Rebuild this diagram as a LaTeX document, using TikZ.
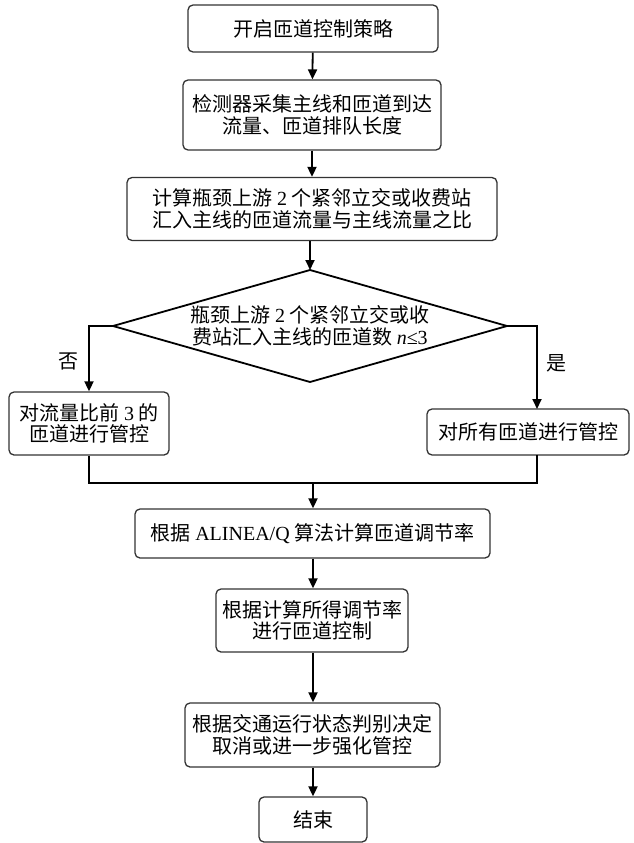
\documentclass[tikz,border=0pt]{standalone}
\usepackage{fontspec}
\setmainfont{Liberation Serif}
\newfontfamily\cjk{Noto Sans CJK SC}
\newcommand{\lt}[1]{{\rmfamily #1}}
\usetikzlibrary{arrows.meta,calc}
\begin{document}
\begin{tikzpicture}[x=1pt,y=-1pt,
  box/.style={draw=black!80,line width=1.3pt,rounded corners=5pt,inner sep=0pt,align=center,font=\cjk\fontsize{20}{21.5}\selectfont},
  conn/.style={line width=1.8pt,-{Triangle[length=10pt,width=9pt]}},
  plain/.style={line width=1.8pt},
  lbl/.style={font=\cjk\fontsize{20}{21.5}\selectfont}]
\useasboundingbox (0,0) rectangle (633,843);
\node[box,minimum width=250,minimum height=47] (b1) at (313,28.5) {开启匝道控制策略};
\node[box,minimum width=258,minimum height=70] (b2) at (312,115) {检测器采集主线和匝道到达\\流量、匝道排队长度};
\node[box,minimum width=370,minimum height=63] (b3) at (312,209) {计算瓶颈上游 \lt{2} 个紧邻立交或收费站\\汇入主线的匝道流量与主线流量之比};
\coordinate (dtop) at (310,270);
\coordinate (dbot) at (310,382);
\coordinate (dleft) at (113,326);
\coordinate (dright) at (507,326);
\draw[line width=1.8pt] (dtop) -- (dright) -- (dbot) -- (dleft) -- cycle;
\node[lbl,align=center] (dec) at (310,326) {瓶颈上游 \lt{2} 个紧邻立交或收\\费站汇入主线的匝道数 \lt{\itshape n}\lt{≤3}};
\node[box,minimum width=160,minimum height=63] (bl) at (89,423.5) {对流量比前 \lt{3} 的\\匝道进行管控};
\node[box,minimum width=202,minimum height=46] (br) at (528,432) {对所有匝道进行管控};
\coordinate (brin) at (537,409);
\coordinate (brout) at (537,455);
\node[box,minimum width=355,minimum height=49] (b4) at (312.5,533.5) {根据 \lt{ALINEA/Q} 算法计算匝道调节率};
\node[box,minimum width=192,minimum height=63] (b5) at (312,620.5) {根据计算所得调节率\\进行匝道控制};
\node[box,minimum width=255,minimum height=64] (b6) at (312.5,735) {根据交通运行状态判别决定\\取消或进一步强化管控};
\node[box,minimum width=108,minimum height=45] (b7) at (313,819.5) {结束};
\coordinate (mL) at (89,483);
\coordinate (mR) at (537,483);
\coordinate (mC) at (313,483);
\node[lbl] (no) at (68,361) {否};
\node[lbl] (yes) at (556,363) {是};
\draw[conn] (b1) -- (b2);
\draw[conn] (b2) -- (b3);
\draw[conn] (b3.south -| dtop) -- (dtop);
\draw[conn] (dleft) -| (bl.north);
\draw[conn] (dright) -| (brin);
\draw[plain] (bl.south) |- (mL) -- (mR) -- (brout);
\draw[conn] (mC) -- (b4.north -| mC);
\draw[conn] (b4.south -| mC) -- (b5.north -| mC);
\draw[conn] (b5.south -| mC) -- (b6.north -| mC);
\draw[conn] (b6.south -| mC) -- (b7.north -| mC);
\end{tikzpicture}
\end{document}
